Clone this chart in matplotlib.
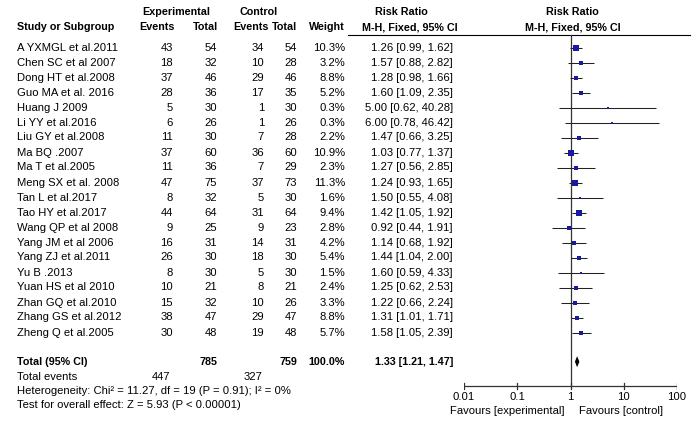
import matplotlib
matplotlib.use("Agg")
import matplotlib.pyplot as plt
import numpy as np

plt.rcParams['font.family'] = ['Liberation Sans', 'DejaVu Sans']

studies = ["A YXMGL et al.2011", "Chen SC et al 2007", "Dong HT et al.2008", "Guo MA et al. 2016",
           "Huang J 2009", "Li YY et al.2016", "Liu GY et al.2008", "Ma BQ .2007", "Ma T et al.2005",
           "Meng SX et al. 2008", "Tan L et al.2017", "Tao HY et al.2017", "Wang QP et al 2008",
           "Yang JM et al 2006", "Yang ZJ et al.2011", "Yu B .2013", "Yuan HS et al 2010",
           "Zhan GQ et al.2010", "Zhang GS et al.2012", "Zheng Q et al.2005"]
exp_events = [43, 18, 37, 28, 5, 6, 11, 37, 11, 47, 8, 44, 9, 16, 26, 8, 10, 15, 38, 30]
exp_total = [54, 32, 46, 36, 30, 26, 30, 60, 36, 75, 32, 64, 25, 31, 30, 30, 21, 32, 47, 48]
ctrl_events = [34, 10, 29, 17, 1, 1, 7, 36, 7, 37, 5, 31, 9, 14, 18, 5, 8, 10, 29, 19]
ctrl_total = [54, 28, 46, 35, 30, 26, 28, 60, 29, 73, 30, 64, 23, 31, 30, 30, 21, 26, 47, 48]
weights = [10.3, 3.2, 8.8, 5.2, 0.3, 0.3, 2.2, 10.9, 2.3, 11.3, 1.6, 9.4, 2.8, 4.2, 5.4, 1.5, 2.4, 3.3, 8.8, 5.7]
rr = [1.26, 1.57, 1.28, 1.60, 5.00, 6.00, 1.47, 1.03, 1.27, 1.24, 1.50, 1.42, 0.92, 1.14, 1.44, 1.60, 1.25, 1.22, 1.31, 1.58]
lo = [0.99, 0.88, 0.98, 1.09, 0.62, 0.78, 0.66, 0.77, 0.56, 0.93, 0.55, 1.05, 0.44, 0.68, 1.04, 0.59, 0.62, 0.66, 1.01, 1.05]
hi = [1.62, 2.82, 1.66, 2.35, 40.28, 46.42, 3.25, 1.37, 2.85, 1.65, 4.08, 1.92, 1.91, 1.92, 2.00, 4.33, 2.53, 2.24, 1.71, 2.39]
total_exp_n, total_ctrl_n = 785, 759
total_exp_ev, total_ctrl_ev = 447, 327
total_rr, total_lo, total_hi = 1.33, 1.21, 1.47
tick_vals = [0.01, 0.1, 1, 10, 100]
tick_labels = ["0.01", "0.1", "1", "10", "100"]

W, H = 694, 425
fig = plt.figure(figsize=(W / 100, H / 100), dpi=100)
ax = fig.add_axes([0, 0, 1, 1])
ax.set_xlim(0, W)
ax.set_ylim(H, 0)
ax.axis('off')

fs = 8.1
fsb = 7.75
row0, dy = 47.5, 15.0
ys = [row0 + i * dy for i in range(len(studies))]

# headers
bold = dict(fontsize=fsb, fontweight='bold', va='center')
ax.text(176, 12, "Experimental", ha='center', **bold)
ax.text(259, 12, "Control", ha='center', **bold)
ax.text(17, 27, "Study or Subgroup", ha='left', **bold)
ax.text(175, 27, "Events", ha='right', **bold)
ax.text(218, 27, "Total", ha='right', **bold)
ax.text(269, 27, "Events", ha='right', **bold)
ax.text(297, 27, "Total", ha='right', **bold)
ax.text(345, 27, "Weight", ha='right', **bold)
ax.text(401, 12, "Risk Ratio", ha='center', **bold)
ax.text(410, 27, "M-H, Fixed, 95% CI", ha='center', **bold)
ax.text(572, 12, "Risk Ratio", ha='center', **bold)
ax.text(573, 27, "M-H, Fixed, 95% CI", ha='center', **bold)
ax.plot([348, 690], [35, 35], color='black', lw=0.8)

norm = dict(fontsize=fs, va='center')
for i, y in enumerate(ys):
    ax.text(17, y, studies[i], ha='left', **norm)
    ax.text(173, y, str(exp_events[i]), ha='right', **norm)
    ax.text(217, y, str(exp_total[i]), ha='right', **norm)
    ax.text(264, y, str(ctrl_events[i]), ha='right', **norm)
    ax.text(297, y, str(ctrl_total[i]), ha='right', **norm)
    ax.text(345, y, f"{weights[i]:.1f}%", ha='right', **norm)
    ax.text(453, y, f"{rr[i]:.2f} [{lo[i]:.2f}, {hi[i]:.2f}]", ha='right', **norm)

boldt = dict(fontsize=fsb, fontweight='bold', va='center')
yt = 361.7
ax.text(17, yt, "Total (95% CI)", ha='left', **boldt)
ax.text(217, yt, str(total_exp_n), ha='right', **boldt)
ax.text(297, yt, str(total_ctrl_n), ha='right', **boldt)
ax.text(345, yt, "100.0%", ha='right', **boldt)
ax.text(453, yt, f"{total_rr:.2f} [{total_lo:.2f}, {total_hi:.2f}]", ha='right', **boldt)
ax.text(17, 376.7, "Total events", ha='left', **norm)
ax.text(170, 376.7, str(total_exp_ev), ha='right', **norm)
ax.text(262, 376.7, str(total_ctrl_ev), ha='right', **norm)
ax.text(17, 391, "Heterogeneity: Chi² = 11.27, df = 19 (P = 0.91); I² = 0%", ha='left', **norm)
ax.text(17, 405.5, "Test for overall effect: Z = 5.93 (P < 0.00001)", ha='left', **norm)

# forest axes
x0, x1 = 464, 677
fa = fig.add_axes([x0 / W, 0, (x1 - x0) / W, 1])
fa.set_xscale('log')
fa.set_xlim(0.01, 100)
fa.set_ylim(H, 0)
fa.axis('off')
fa.patch.set_alpha(0)

axis_y = 385.7
fa.plot([1, 1], [35, axis_y], color='#333333', lw=0.9)
fa.plot([0.01, 100], [axis_y, axis_y], color='#333333', lw=0.9)
for tv, tl in zip(tick_vals, tick_labels):
    fa.plot([tv, tv], [axis_y - 3, axis_y + 3], color='#333333', lw=0.9)
    fa.text(tv, 397.5, tl, ha='center', va='center', fontsize=fs)
ax.text(507, 411, "Favours [experimental]", ha='center', **norm)
ax.text(621, 411, "Favours [control]", ha='center', **norm)

for i, y in enumerate(ys):
    fa.plot([lo[i], hi[i]], [y, y], color='#222222', lw=0.75, solid_capstyle='butt')
    side = 1.5 + 1.15 * np.sqrt(weights[i])
    fa.plot([rr[i]], [y], marker='s', ms=side * 0.72, color='#1a1aa0', mec='#1a1aa0', mew=0)

fa.fill([total_lo, total_rr, total_hi, total_rr], [yt, yt - 5.5, yt, yt + 5.5], color='black', lw=0)

fig.savefig("out.png", dpi=100)
